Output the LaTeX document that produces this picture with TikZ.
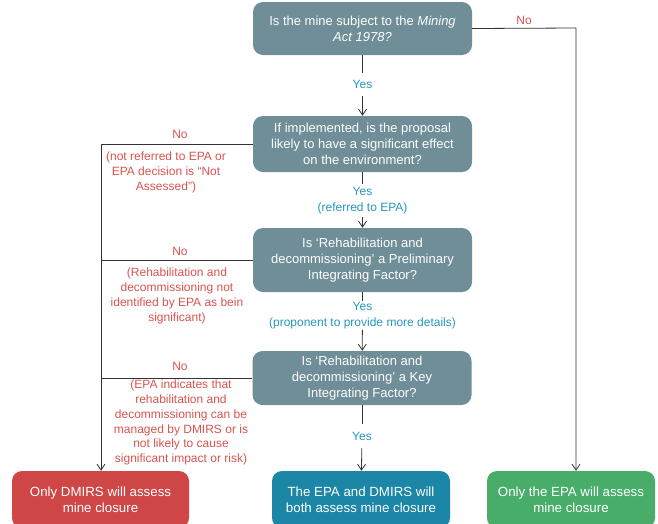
\documentclass[tikz,border=0pt]{standalone}
\usepackage{fontspec}
\setmainfont{Liberation Sans}
\usetikzlibrary{positioning}
\usetikzlibrary{arrows.meta}

\definecolor{qgrey}{HTML}{6F8E97}
\definecolor{noRed}{HTML}{D9534F}
\definecolor{yesBlue}{HTML}{2596BE}
\definecolor{boxRed}{HTML}{CF4647}
\definecolor{boxBlue}{HTML}{1B86A6}
\definecolor{boxGreen}{HTML}{47AD69}

\tikzset{
    qbox/.style={fill=qgrey, text=white, rounded corners=10pt, align=center,
        minimum width=219pt, inner sep=0pt, font=\fontsize{13}{15.8}\selectfont},
    endbox/.style={rounded corners=10pt, text=white, align=center,
        minimum height=57pt, inner sep=0pt, font=\fontsize{13.3}{16.5}\selectfont},
    yeslabel/.style={text=yesBlue, align=center, inner xsep=0pt,
        font=\fontsize{12}{15.8}\selectfont},
    nolabel/.style={text=noRed, align=center, inner sep=0pt,
        font=\fontsize{12}{14.8}\selectfont},
    link/.style={draw=black!80, line width=0.8pt},
    arrowlink/.style={link, -{Straight Barb[length=6pt,width=8pt]}}
}

\begin{document}
\begin{tikzpicture}[x=1pt, y=-1pt]
    % Page frame
    \clip (0,0) rectangle (658,523);

    % Question boxes
    \node[qbox, minimum height=53pt] (q1) at (362.5,28.5)
        {Is the mine subject to the \textit{Mining}\\ \textit{Act 1978?}};
    \node[qbox, minimum height=56pt] (q2) at (362.5,144)
        {If implemented, is the proposal\\ likely to have a significant effect\\ on the environment?};
    \node[qbox, minimum height=64pt] (q3) at (362.5,260)
        {Is `Rehabilitation and\\ decommissioning' a Preliminary\\ Integrating Factor?};
    \node[qbox, minimum height=54pt] (q4) at (362,378)
        {Is `Rehabilitation and\\ decommissioning' a Key\\ Integrating Factor?};

    % Outcome boxes
    \node[endbox, fill=boxRed, minimum width=177pt] (red) at (100.5,499.5)
        {Only DMIRS will assess\\ mine closure};
    \node[endbox, fill=boxBlue, minimum width=178pt] (blue) at (361,499.5)
        {The EPA and DMIRS will\\ both assess mine closure};
    \node[endbox, fill=boxGreen, minimum width=168pt] (green) at (571,499.5)
        {Only the EPA will assess\\ mine closure};

    % Yes labels
    \node[yeslabel, inner ysep=7pt] (y1) at (362.5,84.5) {Yes};
    \node[yeslabel, inner ysep=3pt] (y2) at (362.5,200.5) {Yes\\ (referred to EPA)};
    \node[yeslabel, inner ysep=1pt] (y3) at (362.5,315.5) {Yes\\ (proponent to provide more details)};
    \node[yeslabel, inner ysep=8pt] (y4) at (362,436) {Yes};

    % Yes connectors
    \draw[link] (q1) -- (y1);
    \draw[arrowlink] (y1) -- (q2);
    \draw[link] (q2) -- (y2);
    \draw[arrowlink] (y2) -- (q3);
    \draw[link] (q3) -- (y3);
    \draw[arrowlink] (y3) -- (q4);
    \draw[link] (q4) -- (y4);
    \draw[arrowlink] (y4) -- (blue);

    % No connectors
    \coordinate (rx) at (576,28);
    \coordinate (lx) at (101,0);
    \draw[arrowlink] (q1.east) -- (rx) -- (rx |- green.north);
    \draw[arrowlink] (q2.west) -- (q2.west -| lx) -- (lx |- red.north);
    \draw[link] (q3.west) -- (q3.west -| lx);
    \draw[link] (q4.west) -- (q4.west -| lx);

    % No labels
    \node[nolabel] (n1) at (524,20) {No};
    \node[nolabel] (n2) at (180,134) {No};
    \node[nolabel] (r2) at (166,172.5) {(not referred to EPA or\\ EPA decision is “Not\\ Assessed”)};
    \node[nolabel] (n3) at (180,251) {No};
    \node[nolabel] (r3) at (177,296) {(Rehabilitation and\\ decommissioning not\\ identified by EPA as bein\\ significant)};
    \node[nolabel] (n4) at (180,366) {No};
    \node[nolabel] (r4) at (181,422.5) {(EPA indicates that\\ rehabilitation and\\ decommissioning can be\\ managed by DMIRS or is\\ not likely to cause\\ significant impact or risk)};
\end{tikzpicture}
\end{document}
